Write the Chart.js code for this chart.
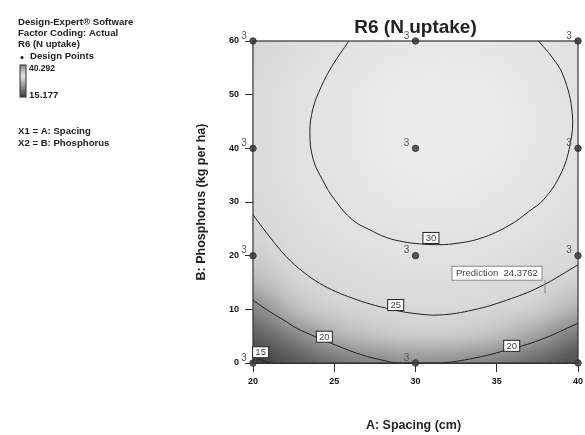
<!DOCTYPE html>
<html>
<head>
<meta charset="utf-8">
<title>R6 (N uptake)</title>
<script src="https://cdn.jsdelivr.net/npm/chart.js@4.4.1/dist/chart.umd.min.js"></script>
<style>
    html, body { margin: 0; padding: 0; background: #fff; }
    #chart { display: block; }
</style>
</head>
<body>
<canvas id="chart" width="585" height="435"></canvas>
<script>
// Response surface (N uptake), rows follow gridY, columns follow gridX
const gridX = [20, 22.5, 25, 27.5, 30, 32.5, 35, 37.5, 40];
const gridY = [0, 5, 10, 15, 20, 25, 30, 35, 40, 45, 50, 55, 60];
const surface = [
    [14.52, 16.85, 18.56, 19.65, 20.13, 20.00, 19.24, 17.86, 15.88],
    [17.21, 19.57, 21.30, 22.42, 22.93, 22.82, 22.08, 20.73, 18.77],
    [19.57, 21.95, 23.71, 24.85, 25.38, 25.30, 24.59, 23.26, 21.33],
    [21.59, 24.00, 25.78, 26.95, 27.50, 27.44, 26.76, 25.46, 23.54],
    [23.27, 25.70, 27.51, 28.70, 29.28, 29.25, 28.59, 27.31, 25.42],
    [24.61, 27.07, 28.90, 30.12, 30.72, 30.71, 30.08, 28.83, 26.97],
    [25.62, 28.10, 29.96, 31.20, 31.83, 31.84, 31.23, 30.01, 28.17],
    [26.29, 28.79, 30.68, 31.95, 32.60, 32.63, 32.05, 30.85, 29.04],
    [26.62, 29.15, 31.06, 32.35, 33.03, 33.09, 32.53, 31.36, 29.57],
    [26.61, 29.16, 31.10, 32.42, 33.12, 33.20, 32.67, 31.52, 29.76],
    [26.27, 28.84, 30.80, 32.15, 32.87, 32.98, 32.48, 31.35, 29.61],
    [25.58, 28.18, 30.17, 31.54, 32.29, 32.42, 31.94, 30.84, 29.13],
    [24.56, 27.19, 29.20, 30.59, 31.37, 31.53, 31.07, 30.00, 28.30]
];

// Contour lines (A: spacing, B: phosphorus)
const contour30 = [
    {x: 25.9, y: 60}, {x: 24.9, y: 55.5}, {x: 24.2, y: 51.5}, {x: 23.7, y: 47.5},
    {x: 23.5, y: 43}, {x: 23.7, y: 38}, {x: 24.3, y: 34}, {x: 25.03, y: 30.4},
    {x: 26.15, y: 26.6}, {x: 27.2, y: 24.8}, {x: 28.2, y: 23.4}, {x: 29.23, y: 22.6},
    {x: 30.26, y: 22.2}, {x: 31.3, y: 22.05}, {x: 32.3, y: 22.2}, {x: 33.97, y: 23.2},
    {x: 35.8, y: 25.7}, {x: 37.0, y: 28.3}, {x: 37.87, y: 30.4}, {x: 38.9, y: 35.0},
    {x: 39.5, y: 40.5}, {x: 39.65, y: 46.5}, {x: 39.1, y: 53.5}, {x: 38.4, y: 57.0},
    {x: 37.56, y: 60}
];
const contour25 = [
    {x: 20, y: 27.6}, {x: 21.03, y: 23.5}, {x: 22.05, y: 19.8}, {x: 23.08, y: 17.0},
    {x: 24.1, y: 14.85}, {x: 25.1, y: 13.3}, {x: 26.15, y: 12.05}, {x: 27.2, y: 11.0},
    {x: 28.5, y: 10.0}, {x: 29.85, y: 9.26}, {x: 31.5, y: 8.95}, {x: 33.56, y: 9.9},
    {x: 35.6, y: 11.7}, {x: 37.66, y: 14.2}, {x: 40, y: 18.3}
];
const contour20 = [
    {x: 20, y: 11.7}, {x: 21.03, y: 9.56}, {x: 22.05, y: 7.7}, {x: 22.67, y: 6.5},
    {x: 23.92, y: 4.8}, {x: 25.2, y: 3.2}, {x: 26.7, y: 1.5}, {x: 28.0, y: 0.5},
    {x: 28.9, y: 0}, {x: 31.5, y: 0}, {x: 33.56, y: 0.87}, {x: 35.6, y: 2.4},
    {x: 37.66, y: 4.3}, {x: 40, y: 7.4}
];
const contour15 = [{x: 20, y: 1.3}, {x: 20.5, y: 0.6}, {x: 21.05, y: 0}];

// Contour label positions and their levels
const labelLevels = ['30', '25', '20', '20', '15'];
const labelX = [30.95, 28.78, 24.39, 35.92, 20.47];
const labelY = [23.3, 10.8, 4.9, 3.2, 2.0];

// Design points and their replicate counts
const designX = [20, 30, 40, 20, 30, 40, 20, 30, 40, 20, 30, 40];
const designY = [0, 0, 0, 20, 20, 20, 40, 40, 40, 60, 60, 60];
const replicates = [3, 3, 3, 3, 3, 3, 3, 3, 3, 3, 3, 3];

// Flag
const predictionAt = [37.97, 13.0];
const predictionValue = '24.3762';

// Ticks / legend text
const xTicks = [20, 25, 30, 35, 40];
const yTicks = [0, 10, 20, 30, 40, 50, 60];
const legendMax = '40.292';
const legendMin = '15.177';

// grey level for a response value
const grayStops = [[14.5, 60], [17, 88], [19.5, 128], [21.5, 180], [23, 205], [25, 216], [28, 223], [31, 229], [33.3, 236]];
function grayFor(v) {
    if (v <= grayStops[0][0]) return grayStops[0][1];
    for (let i = 1; i < grayStops.length; i++) {
        const [v1, g1] = grayStops[i];
        const [v0, g0] = grayStops[i - 1];
        if (v <= v1) return Math.round(g0 + (g1 - g0) * (v - v0) / (v1 - v0));
    }
    return grayStops[grayStops.length - 1][1];
}

const FONT = '"Liberation Sans", Arial, sans-serif';

// Shaded surface behind the contours
const heatmap = {
    id: 'heatmap',
    beforeDatasetsDraw(chart) {
        const {ctx, chartArea, scales: {x, y}} = chart;
        const nx = gridX.length, ny = gridY.length;
        const off = document.createElement('canvas');
        off.width = nx;
        off.height = ny;
        const octx = off.getContext('2d');
        const img = octx.createImageData(nx, ny);
        surface.forEach((row, j) => {
            row.forEach((v, i) => {
                const g = grayFor(v);
                const k = ((ny - 1 - j) * nx + i) * 4;
                img.data[k] = g; img.data[k + 1] = g; img.data[k + 2] = g; img.data[k + 3] = 255;
            });
        });
        octx.putImageData(img, 0, 0);
        const dx = (gridX[1] - gridX[0]) / 2, dy = (gridY[1] - gridY[0]) / 2;
        const left = x.getPixelForValue(gridX[0] - dx);
        const right = x.getPixelForValue(gridX[nx - 1] + dx);
        const top = y.getPixelForValue(gridY[ny - 1] + dy);
        const bottom = y.getPixelForValue(gridY[0] - dy);
        ctx.save();
        ctx.beginPath();
        ctx.rect(chartArea.left, chartArea.top, chartArea.width, chartArea.height);
        ctx.clip();
        ctx.imageSmoothingEnabled = true;
        ctx.imageSmoothingQuality = 'high';
        ctx.drawImage(off, left, top, right - left, bottom - top);
        ctx.restore();
    }
};

// Frame, contour labels, replicate counts, prediction flag
const overlay = {
    id: 'overlay',
    afterDatasetsDraw(chart) {
        const {ctx, chartArea: a, scales: {x, y}} = chart;
        ctx.save();
        ctx.strokeStyle = '#333';
        ctx.lineWidth = 1.2;
        ctx.strokeRect(a.left, a.top, a.width, a.height);

        // contour level boxes
        ctx.font = '9.5px ' + FONT;
        ctx.textAlign = 'center';
        ctx.textBaseline = 'middle';
        labelLevels.forEach((t, i) => {
            const px = x.getPixelForValue(labelX[i]);
            const py = y.getPixelForValue(labelY[i]);
            ctx.fillStyle = '#fff';
            ctx.fillRect(px - 8, py - 5.5, 16, 11);
            ctx.strokeStyle = '#222';
            ctx.lineWidth = 1;
            ctx.strokeRect(px - 8, py - 5.5, 16, 11);
            ctx.fillStyle = '#444';
            ctx.fillText(t, px, py + 0.5);
        });

        // replicate numbers next to design points
        ctx.font = '10px ' + FONT;
        ctx.fillStyle = '#555';
        designX.forEach((dxv, i) => {
            const px = x.getPixelForValue(dxv);
            const py = y.getPixelForValue(designY[i]);
            ctx.fillText(String(replicates[i]), px - 9, py - 5);
        });

        // prediction flag
        const fx = x.getPixelForValue(predictionAt[0]);
        const fy = y.getPixelForValue(predictionAt[1]);
        ctx.fillStyle = '#fff';
        ctx.fillRect(fx - 93, fy - 27, 90, 14);
        ctx.strokeStyle = '#888';
        ctx.strokeRect(fx - 93, fy - 27, 90, 14);
        ctx.beginPath();
        ctx.moveTo(fx, fy - 13);
        ctx.lineTo(fx, fy);
        ctx.stroke();
        ctx.fillStyle = '#444';
        ctx.font = '9.5px ' + FONT;
        ctx.textAlign = 'left';
        ctx.fillText('Prediction  ' + predictionValue, fx - 89, fy - 19.5);
        ctx.restore();
    },
    afterDraw(chart) {
        const {ctx, chartArea: a} = chart;
        const cx = (a.left + a.right) / 2;
        ctx.save();
        ctx.fillStyle = '#222';
        ctx.textBaseline = 'middle';

        // title and axis titles
        ctx.textAlign = 'center';
        ctx.font = 'bold 19px ' + FONT;
        ctx.fillText('R6 (N uptake)', cx, 28);
        ctx.font = 'bold 12.5px ' + FONT;
        ctx.fillText('A: Spacing (cm)', cx - 2, 426);
        ctx.translate(202, (a.top + a.bottom) / 2);
        ctx.rotate(-Math.PI / 2);
        ctx.fillText('B: Phosphorus (kg per ha)', 0, 0);
        ctx.setTransform(1, 0, 0, 1, 0, 0);

        // info block on the left
        ctx.textAlign = 'left';
        ctx.font = 'bold 9.6px ' + FONT;
        ctx.fillText('Design-Expert\u00ae Software', 18, 22);
        ctx.fillText('Factor Coding: Actual', 18, 33);
        ctx.fillText('R6 (N uptake)', 18, 44);
        ctx.fillText('Design Points', 30, 56.5);
        ctx.beginPath();
        ctx.arc(22, 57.5, 1.6, 0, Math.PI * 2);
        ctx.fill();
        const grad = ctx.createLinearGradient(0, 65, 0, 97);
        grad.addColorStop(0, '#8a8a8a');
        grad.addColorStop(0.35, '#e4e4e4');
        grad.addColorStop(1, '#3a3a3a');
        ctx.fillStyle = grad;
        ctx.fillRect(20, 65, 6, 32);
        ctx.strokeStyle = '#333';
        ctx.lineWidth = 1;
        ctx.strokeRect(20, 65, 6, 32);
        ctx.fillStyle = '#222';
        ctx.font = 'bold 8.5px ' + FONT;
        ctx.fillText(legendMax, 29, 68.5);
        ctx.font = 'bold 9.6px ' + FONT;
        ctx.fillText(legendMin, 29, 95);
        ctx.fillText('X1 = A: Spacing', 18, 131);
        ctx.fillText('X2 = B: Phosphorus', 18, 143);
        ctx.restore();
    }
};

function contourSet(points) {
    return {
        type: 'line',
        data: points,
        borderColor: '#222',
        borderWidth: 1,
        pointRadius: 0,
        fill: false,
        tension: 0.4,
        clip: 0
    };
}

const tickFont = {family: FONT, size: 9, weight: 'bold'};

new Chart(document.getElementById('chart'), {
    type: 'scatter',
    data: {
        datasets: [
            contourSet(contour30),
            contourSet(contour25),
            contourSet(contour20),
            contourSet(contour15),
            {
                type: 'scatter',
                data: designX.map((v, i) => ({x: v, y: designY[i]})),
                pointRadius: 3.2,
                pointBackgroundColor: '#555',
                pointBorderColor: '#3a3a3a',
                pointBorderWidth: 1,
                clip: false
            }
        ]
    },
    options: {
        responsive: false,
        animation: false,
        devicePixelRatio: 1,
        layout: {padding: {left: 213, top: 41, right: 7, bottom: 32}},
        plugins: {legend: {display: false}, tooltip: {enabled: false}},
        scales: {
            x: {
                type: 'linear',
                min: xTicks[0],
                max: xTicks[xTicks.length - 1],
                afterBuildTicks: s => { s.ticks = xTicks.map(v => ({value: v})); },
                ticks: {font: tickFont, color: '#111', padding: 4, maxRotation: 0},
                grid: {drawOnChartArea: false, tickLength: 9, color: '#333'},
                border: {color: '#333'},
                afterFit: s => { s.height = 40; s.paddingLeft = 0; s.paddingRight = 0; }
            },
            y: {
                type: 'linear',
                min: yTicks[0],
                max: yTicks[yTicks.length - 1],
                afterBuildTicks: s => { s.ticks = yTicks.map(v => ({value: v})); },
                ticks: {font: tickFont, color: '#111', padding: 6},
                grid: {drawOnChartArea: false, tickLength: 8, color: '#333'},
                border: {color: '#333'},
                afterFit: s => { s.width = 40; s.paddingTop = 0; s.paddingBottom = 0; }
            }
        }
    },
    plugins: [heatmap, overlay]
});
</script>
</body>
</html>
